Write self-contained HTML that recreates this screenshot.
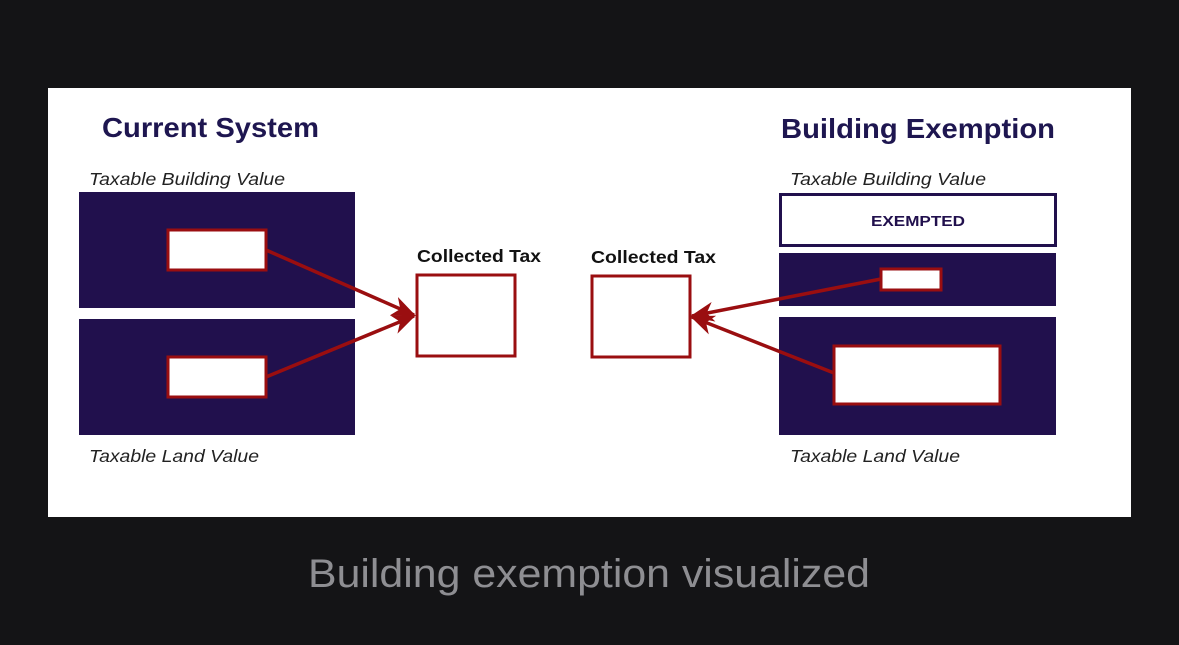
<!DOCTYPE html>
<html><head><meta charset="utf-8"><style>
html,body{margin:0;padding:0;background:#141416;width:1179px;height:645px;overflow:hidden}
svg{display:block}
</style></head><body>
<svg width="1179" height="645" viewBox="0 0 1179 645" xmlns="http://www.w3.org/2000/svg" font-family="Liberation Sans, Arial, sans-serif">
<defs>
<marker id="ah" markerWidth="24" markerHeight="20" refX="22" refY="10" orient="auto" markerUnits="userSpaceOnUse" viewBox="0 0 24 20">
<path d="M0,0 L24,10 L0,20 L7,10 Z" fill="#9a0e10"/>
</marker>
</defs>
<rect x="0" y="0" width="1179" height="645" fill="#141416"/>
<rect x="48" y="88" width="1083" height="429" fill="#ffffff"/>

<!-- Left -->
<text x="102" y="137" font-size="28" font-weight="bold" fill="#1e1650" textLength="217" lengthAdjust="spacingAndGlyphs">Current System</text>
<text x="89" y="185" font-size="17.5" font-style="italic" fill="#222" textLength="196" lengthAdjust="spacingAndGlyphs">Taxable Building Value</text>
<rect x="79" y="192" width="276" height="116" fill="#21104d"/>
<rect x="79" y="319" width="276" height="116" fill="#21104d"/>
<rect x="168" y="230" width="98" height="40" fill="#fff" stroke="#9a0e10" stroke-width="3"/>
<rect x="168" y="357" width="98" height="40" fill="#fff" stroke="#9a0e10" stroke-width="3"/>
<text x="89" y="462" font-size="17.5" font-style="italic" fill="#222" textLength="170" lengthAdjust="spacingAndGlyphs">Taxable Land Value</text>
<text x="417" y="262" font-size="17.5" font-weight="bold" fill="#111" textLength="124" lengthAdjust="spacingAndGlyphs">Collected Tax</text>
<rect x="417" y="275" width="98" height="81" fill="#fff" stroke="#9a0e10" stroke-width="3"/>
<line x1="266" y1="250" x2="414" y2="315" stroke="#9a0e10" stroke-width="3.5" marker-end="url(#ah)"/>
<line x1="266" y1="377" x2="414" y2="316" stroke="#9a0e10" stroke-width="3.5" marker-end="url(#ah)"/>

<!-- Right -->
<text x="781" y="138" font-size="28" font-weight="bold" fill="#1e1650" textLength="274" lengthAdjust="spacingAndGlyphs">Building Exemption</text>
<text x="790" y="185" font-size="17.5" font-style="italic" fill="#222" textLength="196" lengthAdjust="spacingAndGlyphs">Taxable Building Value</text>
<rect x="780.5" y="194.5" width="275" height="51" fill="#fff" stroke="#21104d" stroke-width="3"/>
<text x="918" y="226" font-size="15" font-weight="bold" fill="#21104d" text-anchor="middle" textLength="94" lengthAdjust="spacingAndGlyphs">EXEMPTED</text>
<rect x="779" y="253" width="277" height="53" fill="#21104d"/>
<rect x="779" y="317" width="277" height="118" fill="#21104d"/>
<rect x="881" y="269" width="60" height="21" fill="#fff" stroke="#9a0e10" stroke-width="3"/>
<rect x="834" y="346" width="166" height="58" fill="#fff" stroke="#9a0e10" stroke-width="3"/>
<text x="790" y="462" font-size="17.5" font-style="italic" fill="#222" textLength="170" lengthAdjust="spacingAndGlyphs">Taxable Land Value</text>
<text x="591" y="263" font-size="17.5" font-weight="bold" fill="#111" textLength="125" lengthAdjust="spacingAndGlyphs">Collected Tax</text>
<rect x="592" y="276" width="98" height="81" fill="#fff" stroke="#9a0e10" stroke-width="3"/>
<line x1="881" y1="279" x2="692" y2="316" stroke="#9a0e10" stroke-width="3.5" marker-end="url(#ah)"/>
<line x1="834" y1="373" x2="692" y2="317" stroke="#9a0e10" stroke-width="3.5" marker-end="url(#ah)"/>

<text x="589" y="587" font-size="40" fill="#8e8e92" text-anchor="middle" textLength="562" lengthAdjust="spacingAndGlyphs">Building exemption visualized</text>
</svg>
</body></html>
